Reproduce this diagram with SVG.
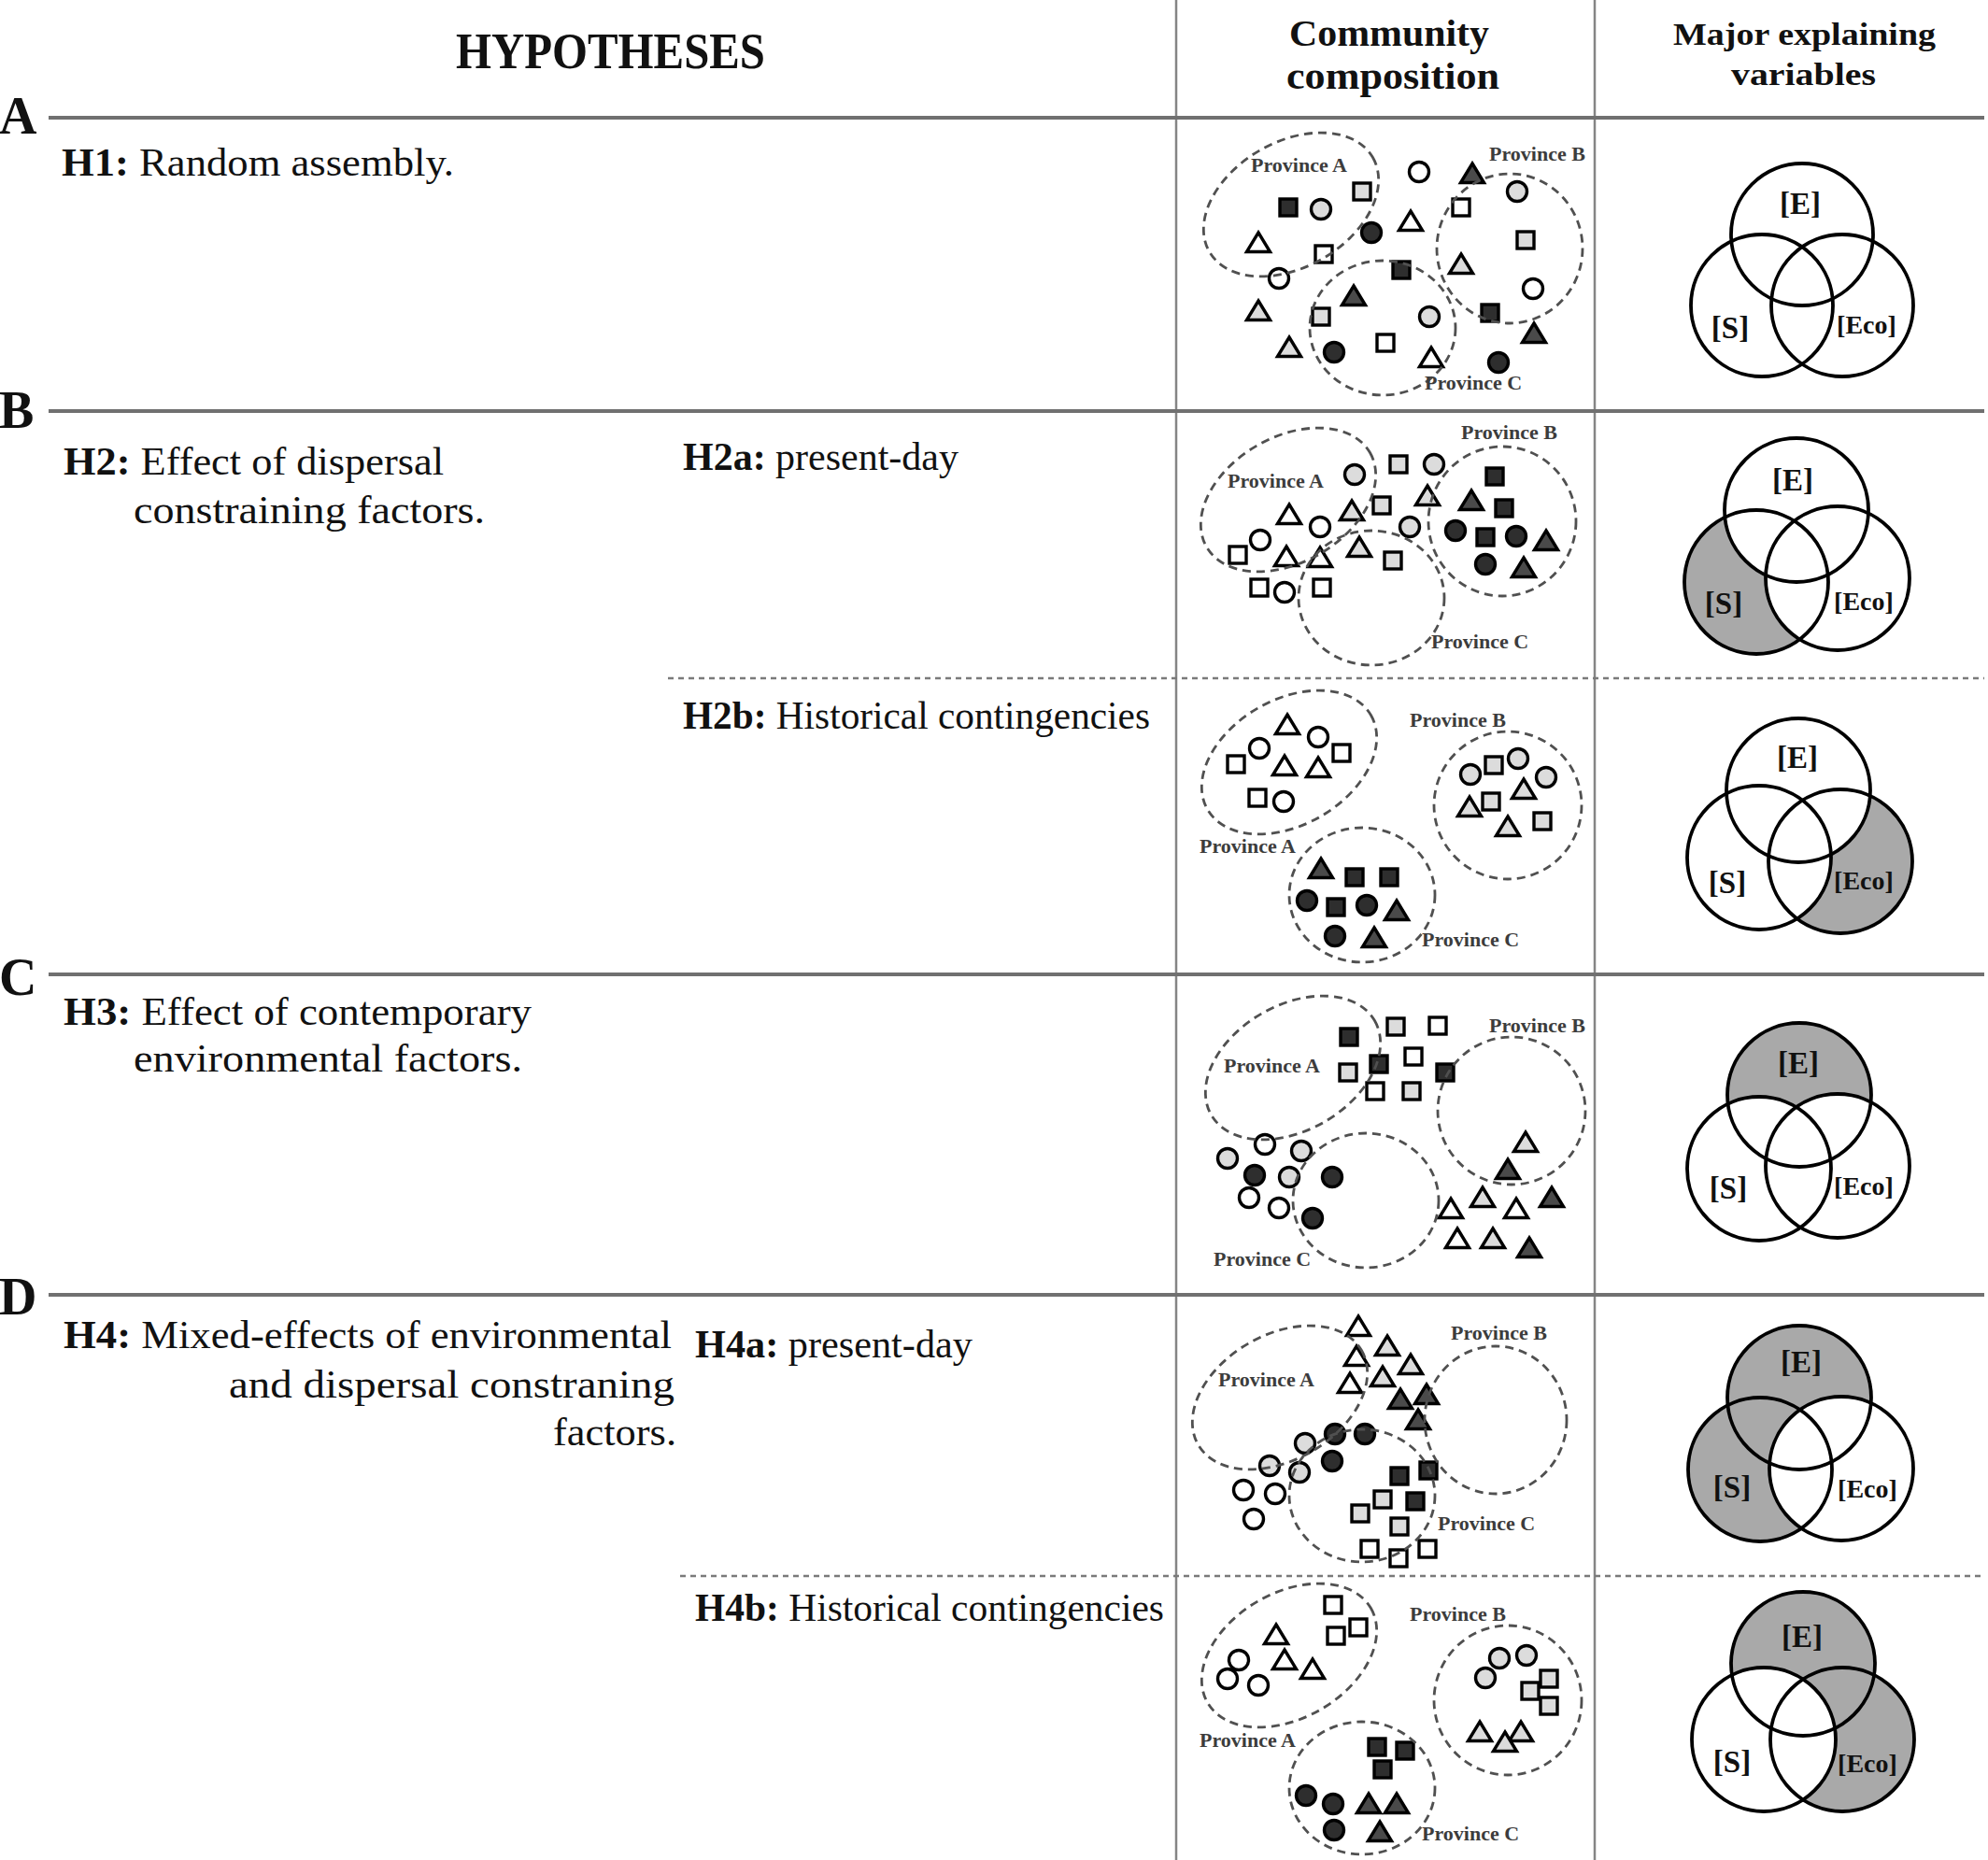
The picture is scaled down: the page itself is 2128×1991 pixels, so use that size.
<svg xmlns="http://www.w3.org/2000/svg" width="2128" height="1991" viewBox="0 0 2128 1991">
<style>
.t{font-family:"Liberation Serif","Times New Roman",serif;font-size:42px;fill:#111}
.b{font-weight:bold}
.hd{font-family:"Liberation Serif","Times New Roman",serif;font-weight:bold;fill:#111}
.let{font-family:"Liberation Serif","Times New Roman",serif;font-weight:bold;font-size:56px;fill:#111}
.pv{font-family:"Liberation Serif","Times New Roman",serif;font-weight:bold;font-size:22px;fill:#3c3c3c}
.vl{font-family:"Liberation Serif","Times New Roman",serif;font-weight:bold;fill:#111;text-anchor:middle}
.hl{stroke:#707070;stroke-width:4;fill:none}
.vline{stroke:#858585;stroke-width:2.5;fill:none}
.dl{stroke:#7a7a7a;stroke-width:2.5;stroke-dasharray:6 5;fill:none}
.pe{fill:none;stroke:#505050;stroke-width:2.8;stroke-dasharray:9 6}
.sym{stroke:#000;stroke-width:3.4;stroke-linejoin:miter}
.w{fill:#fff}.l{fill:#dcdcdc}.d{fill:#2e2e2e}.dt{fill:#4a4a4a}
.vo{fill:none;stroke:#000;stroke-width:3.8}
.g{fill:#a9a9a9}.wf{fill:#fff}
</style>
<defs>
<rect id="sq" x="-9" y="-9" width="18" height="18"/>
<circle id="ci" r="10.5"/>
<path id="tr" d="M0,-11 L12.5,9.5 L-12.5,9.5 Z"/>
<ellipse id="eA" rx="101" ry="67" transform="rotate(-30)"/>
</defs>
<rect width="2128" height="1991" fill="#fff"/>

<g id="grid">
<line class="vline" x1="1259" y1="0" x2="1259" y2="1991"/>
<line class="vline" x1="1707" y1="0" x2="1707" y2="1991"/>
<line class="hl" x1="52" y1="126" x2="2124" y2="126"/>
<line class="hl" x1="52" y1="440" x2="2124" y2="440"/>
<line class="hl" x1="52" y1="1043" x2="2124" y2="1043"/>
<line class="hl" x1="52" y1="1386" x2="2124" y2="1386"/>
<line class="dl" x1="715" y1="726" x2="2124" y2="726"/>
<line class="dl" x1="728" y1="1687" x2="2124" y2="1687"/>
</g>

<g id="header">
<text class="hd" x="488" y="73" font-size="54" textLength="331" lengthAdjust="spacingAndGlyphs">HYPOTHESES</text>
<text class="hd" x="1380" y="49" font-size="41" textLength="214" lengthAdjust="spacingAndGlyphs">Community</text>
<text class="hd" x="1377" y="95" font-size="41" textLength="228" lengthAdjust="spacingAndGlyphs">composition</text>
<text class="hd" x="1791" y="48" font-size="34" textLength="281" lengthAdjust="spacingAndGlyphs">Major explaining</text>
<text class="hd" x="1853" y="91" font-size="34" textLength="155" lengthAdjust="spacingAndGlyphs">variables</text>
</g>

<g id="letters">
<text class="let" x="-1" y="143">A</text>
<text class="let" x="-1" y="458">B</text>
<text class="let" x="-1" y="1065">C</text>
<text class="let" x="-1" y="1407">D</text>
</g>

<g id="hypotheses">
<text class="t" x="66" y="188" textLength="420" lengthAdjust="spacingAndGlyphs"><tspan class="b">H1:</tspan> Random assembly.</text>
<text class="t" x="68" y="508" textLength="407" lengthAdjust="spacingAndGlyphs"><tspan class="b">H2:</tspan> Effect of dispersal</text>
<text class="t" x="143" y="560" textLength="376" lengthAdjust="spacingAndGlyphs">constraining factors.</text>
<text class="t" x="731" y="503" textLength="295" lengthAdjust="spacingAndGlyphs"><tspan class="b">H2a:</tspan> present-day</text>
<text class="t" x="731" y="780" textLength="500" lengthAdjust="spacingAndGlyphs"><tspan class="b">H2b:</tspan> Historical contingencies</text>
<text class="t" x="68" y="1097" textLength="501" lengthAdjust="spacingAndGlyphs"><tspan class="b">H3:</tspan> Effect of contemporary</text>
<text class="t" x="143" y="1147" textLength="416" lengthAdjust="spacingAndGlyphs">environmental factors.</text>
<text class="t" x="68" y="1443" textLength="651" lengthAdjust="spacingAndGlyphs"><tspan class="b">H4:</tspan> Mixed-effects of environmental</text>
<text class="t" x="245" y="1496" textLength="477" lengthAdjust="spacingAndGlyphs">and dispersal constraning</text>
<text class="t" x="592" y="1547" textLength="132" lengthAdjust="spacingAndGlyphs">factors.</text>
<text class="t" x="744" y="1453" textLength="297" lengthAdjust="spacingAndGlyphs"><tspan class="b">H4a:</tspan> present-day</text>
<text class="t" x="744" y="1735" textLength="502" lengthAdjust="spacingAndGlyphs"><tspan class="b">H4b:</tspan> Historical contingencies</text>
</g>

<!-- Panel A: H1 -->
<g id="comp-H1">
<g class="sym">
<use href="#sq" x="1379" y="222" class="d"/><use href="#ci" x="1414" y="224" class="l"/><use href="#sq" x="1458" y="205" class="l"/>
<use href="#ci" x="1519" y="184" class="w"/><use href="#tr" x="1576" y="186" class="dt"/><use href="#sq" x="1564" y="222" class="w"/>
<use href="#ci" x="1624" y="205" class="l"/><use href="#tr" x="1347" y="260" class="w"/><use href="#ci" x="1468" y="249" class="d"/>
<use href="#tr" x="1510" y="237" class="w"/><use href="#sq" x="1633" y="257" class="l"/><use href="#sq" x="1417" y="272" class="w"/>
<use href="#ci" x="1369" y="298" class="w"/><use href="#sq" x="1500" y="289" class="d"/><use href="#tr" x="1564" y="283" class="l"/>
<use href="#ci" x="1641" y="309" class="w"/><use href="#tr" x="1347" y="333" class="l"/><use href="#tr" x="1449" y="317" class="dt"/>
<use href="#sq" x="1414" y="339" class="l"/><use href="#ci" x="1530" y="339" class="l"/><use href="#sq" x="1595" y="335" class="d"/>
<use href="#tr" x="1642" y="357" class="dt"/><use href="#tr" x="1380" y="372" class="l"/><use href="#ci" x="1428" y="377" class="d"/>
<use href="#sq" x="1483" y="367" class="w"/><use href="#tr" x="1532" y="383" class="w"/><use href="#ci" x="1604" y="388" class="d"/>
</g>
<use href="#eA" x="1382" y="219" class="pe"/>
<ellipse class="pe" cx="1616" cy="266" rx="78" ry="80"/>
<ellipse class="pe" cx="1480" cy="351" rx="78" ry="72"/>
<text class="pv" x="1339" y="184">Province A</text>
<text class="pv" x="1594" y="172">Province B</text>
<text class="pv" x="1525" y="417">Province C</text>
</g>

<!-- H2a -->
<g id="comp-H2a">
<g class="sym">
<use href="#ci" x="1450" y="508" class="l"/><use href="#sq" x="1497" y="497" class="l"/><use href="#ci" x="1535" y="497" class="l"/>
<use href="#sq" x="1600" y="510" class="d"/><use href="#tr" x="1380" y="551" class="w"/><use href="#tr" x="1447" y="547" class="l"/>
<use href="#sq" x="1479" y="541" class="l"/><use href="#tr" x="1528" y="531" class="l"/><use href="#tr" x="1575" y="536" class="dt"/>
<use href="#sq" x="1610" y="544" class="d"/><use href="#ci" x="1413" y="564" class="w"/><use href="#ci" x="1349" y="578" class="w"/>
<use href="#ci" x="1509" y="564" class="l"/><use href="#ci" x="1558" y="568" class="d"/><use href="#sq" x="1590" y="575" class="d"/>
<use href="#ci" x="1623" y="574" class="d"/><use href="#tr" x="1655" y="579" class="dt"/><use href="#sq" x="1325" y="594" class="w"/>
<use href="#tr" x="1377" y="596" class="w"/><use href="#tr" x="1413" y="597" class="w"/><use href="#tr" x="1455" y="586" class="l"/>
<use href="#sq" x="1491" y="600" class="l"/><use href="#ci" x="1590" y="604" class="d"/><use href="#tr" x="1631" y="608" class="dt"/>
<use href="#sq" x="1348" y="629" class="w"/><use href="#ci" x="1375" y="634" class="w"/><use href="#sq" x="1415" y="629" class="w"/>
</g>
<use href="#eA" x="1379" y="535" class="pe"/>
<ellipse class="pe" cx="1608" cy="558" rx="79" ry="80"/>
<ellipse class="pe" cx="1468" cy="640" rx="78" ry="72"/>
<text class="pv" x="1314" y="522">Province A</text>
<text class="pv" x="1564" y="470">Province B</text>
<text class="pv" x="1532" y="694">Province C</text>
</g>

<!-- H2b -->
<g id="comp-H2b">
<g class="sym">
<use href="#tr" x="1378" y="776" class="w"/><use href="#ci" x="1411" y="789" class="w"/><use href="#ci" x="1348" y="801" class="w"/>
<use href="#sq" x="1436" y="806" class="w"/><use href="#sq" x="1323" y="818" class="w"/><use href="#tr" x="1375" y="820" class="w"/>
<use href="#tr" x="1411" y="822" class="w"/><use href="#sq" x="1346" y="854" class="w"/><use href="#ci" x="1374" y="858" class="w"/>
<use href="#ci" x="1625" y="812" class="l"/><use href="#sq" x="1599" y="819" class="l"/><use href="#ci" x="1574" y="829" class="l"/>
<use href="#ci" x="1655" y="832" class="l"/><use href="#tr" x="1631" y="845" class="l"/><use href="#sq" x="1596" y="858" class="l"/>
<use href="#tr" x="1573" y="864" class="l"/><use href="#tr" x="1614" y="885" class="l"/><use href="#sq" x="1651" y="879" class="l"/>
<use href="#tr" x="1414" y="930" class="dt"/><use href="#sq" x="1450" y="939" class="d"/><use href="#sq" x="1487" y="939" class="d"/>
<use href="#ci" x="1399" y="964" class="d"/><use href="#sq" x="1430" y="971" class="d"/><use href="#ci" x="1463" y="969" class="d"/>
<use href="#tr" x="1495" y="975" class="dt"/><use href="#ci" x="1429" y="1002" class="d"/><use href="#tr" x="1471" y="1004" class="dt"/>
</g>
<use href="#eA" x="1380" y="816" class="pe"/>
<ellipse class="pe" cx="1614" cy="862" rx="79" ry="79"/>
<ellipse class="pe" cx="1458" cy="958" rx="78" ry="72"/>
<text class="pv" x="1284" y="913">Province A</text>
<text class="pv" x="1509" y="778">Province B</text>
<text class="pv" x="1522" y="1013">Province C</text>
</g>

<!-- H3 -->
<g id="comp-H3">
<g class="sym">
<use href="#sq" x="1444" y="1110" class="d"/><use href="#sq" x="1494" y="1099" class="l"/><use href="#sq" x="1539" y="1098" class="w"/>
<use href="#sq" x="1513" y="1131" class="w"/><use href="#sq" x="1443" y="1148" class="l"/><use href="#sq" x="1476" y="1139" class="d"/>
<use href="#sq" x="1547" y="1148" class="d"/><use href="#sq" x="1472" y="1168" class="w"/><use href="#sq" x="1511" y="1168" class="l"/>
<use href="#ci" x="1354" y="1225" class="w"/><use href="#ci" x="1314" y="1240" class="l"/><use href="#ci" x="1393" y="1232" class="l"/>
<use href="#ci" x="1343" y="1258" class="d"/><use href="#ci" x="1380" y="1260" class="l"/><use href="#ci" x="1426" y="1260" class="d"/>
<use href="#ci" x="1337" y="1282" class="w"/><use href="#ci" x="1369" y="1293" class="w"/><use href="#ci" x="1405" y="1304" class="d"/>
<use href="#tr" x="1633" y="1223" class="l"/><use href="#tr" x="1614" y="1252" class="dt"/><use href="#tr" x="1587" y="1282" class="l"/>
<use href="#tr" x="1553" y="1294" class="w"/><use href="#tr" x="1623" y="1294" class="w"/><use href="#tr" x="1661" y="1282" class="dt"/>
<use href="#tr" x="1560" y="1326" class="w"/><use href="#tr" x="1598" y="1326" class="l"/><use href="#tr" x="1637" y="1336" class="dt"/>
</g>
<use href="#eA" x="1384" y="1143" class="pe"/>
<ellipse class="pe" cx="1618" cy="1189" rx="79" ry="79"/>
<ellipse class="pe" cx="1462" cy="1285" rx="78" ry="72"/>
<text class="pv" x="1310" y="1148">Province A</text>
<text class="pv" x="1594" y="1105">Province B</text>
<text class="pv" x="1299" y="1355">Province C</text>
</g>

<!-- H4a -->
<g id="comp-H4a">
<g class="sym">
<use href="#tr" x="1454" y="1420" class="w"/><use href="#tr" x="1485" y="1441" class="l"/><use href="#tr" x="1452" y="1452" class="w"/>
<use href="#tr" x="1510" y="1461" class="l"/><use href="#tr" x="1445" y="1481" class="w"/><use href="#tr" x="1480" y="1474" class="l"/>
<use href="#tr" x="1499" y="1498" class="dt"/><use href="#tr" x="1527" y="1493" class="dt"/><use href="#tr" x="1518" y="1520" class="dt"/>
<use href="#ci" x="1429" y="1535" class="d"/><use href="#ci" x="1461" y="1535" class="d"/><use href="#ci" x="1397" y="1545" class="l"/>
<use href="#ci" x="1359" y="1569" class="l"/><use href="#ci" x="1391" y="1576" class="l"/><use href="#ci" x="1426" y="1564" class="d"/>
<use href="#ci" x="1331" y="1595" class="w"/><use href="#ci" x="1365" y="1599" class="w"/><use href="#ci" x="1342" y="1626" class="w"/>
<use href="#sq" x="1498" y="1580" class="d"/><use href="#sq" x="1529" y="1574" class="d"/><use href="#sq" x="1480" y="1605" class="l"/>
<use href="#sq" x="1515" y="1607" class="d"/><use href="#sq" x="1456" y="1620" class="l"/><use href="#sq" x="1498" y="1634" class="l"/>
<use href="#sq" x="1466" y="1658" class="w"/><use href="#sq" x="1497" y="1668" class="w"/><use href="#sq" x="1528" y="1658" class="w"/>
</g>
<use href="#eA" x="1370" y="1496" class="pe"/>
<ellipse class="pe" cx="1601" cy="1520" rx="76" ry="79"/>
<ellipse class="pe" cx="1458" cy="1601" rx="78" ry="71"/>
<text class="pv" x="1304" y="1484">Province A</text>
<text class="pv" x="1553" y="1434">Province B</text>
<text class="pv" x="1539" y="1638">Province C</text>
</g>

<!-- H4b -->
<g id="comp-H4b">
<g class="sym">
<use href="#sq" x="1427" y="1718" class="w"/><use href="#tr" x="1366" y="1750" class="w"/><use href="#sq" x="1454" y="1742" class="w"/>
<use href="#sq" x="1430" y="1751" class="w"/><use href="#ci" x="1326" y="1777" class="w"/><use href="#tr" x="1375" y="1777" class="w"/>
<use href="#tr" x="1405" y="1787" class="w"/><use href="#ci" x="1314" y="1797" class="w"/><use href="#ci" x="1347" y="1804" class="w"/>
<use href="#ci" x="1605" y="1775" class="l"/><use href="#ci" x="1634" y="1772" class="l"/><use href="#ci" x="1590" y="1796" class="l"/>
<use href="#sq" x="1658" y="1797" class="l"/><use href="#sq" x="1638" y="1810" class="l"/><use href="#sq" x="1658" y="1826" class="l"/>
<use href="#tr" x="1584" y="1854" class="l"/><use href="#tr" x="1628" y="1854" class="l"/><use href="#tr" x="1611" y="1865" class="l"/>
<use href="#sq" x="1474" y="1870" class="d"/><use href="#sq" x="1504" y="1874" class="d"/><use href="#sq" x="1480" y="1894" class="d"/>
<use href="#ci" x="1398" y="1922" class="d"/><use href="#ci" x="1427" y="1931" class="d"/><use href="#tr" x="1465" y="1931" class="dt"/>
<use href="#tr" x="1495" y="1931" class="dt"/><use href="#ci" x="1428" y="1959" class="d"/><use href="#tr" x="1477" y="1961" class="dt"/>
</g>
<use href="#eA" x="1380" y="1772" class="pe"/>
<ellipse class="pe" cx="1614" cy="1820" rx="79" ry="80"/>
<ellipse class="pe" cx="1458" cy="1914" rx="78" ry="71"/>
<text class="pv" x="1284" y="1870">Province A</text>
<text class="pv" x="1509" y="1735">Province B</text>
<text class="pv" x="1522" y="1970">Province C</text>
</g>

<!-- Venn diagrams -->
<g id="venn-H1">
<circle class="vo" cx="1929" cy="251" r="76"/>
<circle class="vo" cx="1886" cy="327" r="76"/>
<circle class="vo" cx="1972" cy="327" r="76"/>
<text class="vl" x="1927" y="229" font-size="33">[E]</text>
<text class="vl" x="1852" y="362" font-size="33">[S]</text>
<text class="vl" x="1998" y="357" font-size="28">[Eco]</text>
</g>

<g id="venn-H2a">
<circle class="g" cx="1880" cy="623" r="77"/>
<circle class="wf" cx="1923" cy="546" r="77"/>
<circle class="wf" cx="1967" cy="619" r="77"/>
<circle class="vo" cx="1923" cy="546" r="77"/>
<circle class="vo" cx="1880" cy="623" r="77"/>
<circle class="vo" cx="1967" cy="619" r="77"/>
<text class="vl" x="1919" y="525" font-size="33">[E]</text>
<text class="vl" x="1845" y="657" font-size="33">[S]</text>
<text class="vl" x="1995" y="653" font-size="28">[Eco]</text>
</g>

<g id="venn-H2b">
<circle class="g" cx="1970" cy="922" r="77"/>
<circle class="wf" cx="1925" cy="846" r="77"/>
<circle class="wf" cx="1883" cy="918" r="77"/>
<circle class="vo" cx="1925" cy="846" r="77"/>
<circle class="vo" cx="1883" cy="918" r="77"/>
<circle class="vo" cx="1970" cy="922" r="77"/>
<text class="vl" x="1924" y="822" font-size="33">[E]</text>
<text class="vl" x="1849" y="956" font-size="33">[S]</text>
<text class="vl" x="1995" y="952" font-size="28">[Eco]</text>
</g>

<g id="venn-H3">
<circle class="g" cx="1926" cy="1172" r="77"/>
<circle class="wf" cx="1883" cy="1251" r="77"/>
<circle class="wf" cx="1967" cy="1248" r="77"/>
<circle class="vo" cx="1926" cy="1172" r="77"/>
<circle class="vo" cx="1883" cy="1251" r="77"/>
<circle class="vo" cx="1967" cy="1248" r="77"/>
<text class="vl" x="1925" y="1149" font-size="33">[E]</text>
<text class="vl" x="1850" y="1283" font-size="33">[S]</text>
<text class="vl" x="1995" y="1279" font-size="28">[Eco]</text>
</g>

<g id="venn-H4a">
<circle class="g" cx="1926" cy="1496" r="77"/>
<circle class="g" cx="1884" cy="1573" r="77"/>
<circle class="wf" cx="1971" cy="1572" r="77"/>
<circle class="vo" cx="1926" cy="1496" r="77"/>
<circle class="vo" cx="1884" cy="1573" r="77"/>
<circle class="vo" cx="1971" cy="1572" r="77"/>
<text class="vl" x="1928" y="1469" font-size="33">[E]</text>
<text class="vl" x="1854" y="1603" font-size="33">[S]</text>
<text class="vl" x="1999" y="1603" font-size="28">[Eco]</text>
</g>

<g id="venn-H4b">
<circle class="g" cx="1930" cy="1781" r="77"/>
<circle class="g" cx="1972" cy="1862" r="77"/>
<circle class="wf" cx="1888" cy="1862" r="77"/>
<circle class="vo" cx="1930" cy="1781" r="77"/>
<circle class="vo" cx="1888" cy="1862" r="77"/>
<circle class="vo" cx="1972" cy="1862" r="77"/>
<text class="vl" x="1929" y="1763" font-size="33">[E]</text>
<text class="vl" x="1854" y="1897" font-size="33">[S]</text>
<text class="vl" x="1999" y="1897" font-size="28">[Eco]</text>
</g>
</svg>
